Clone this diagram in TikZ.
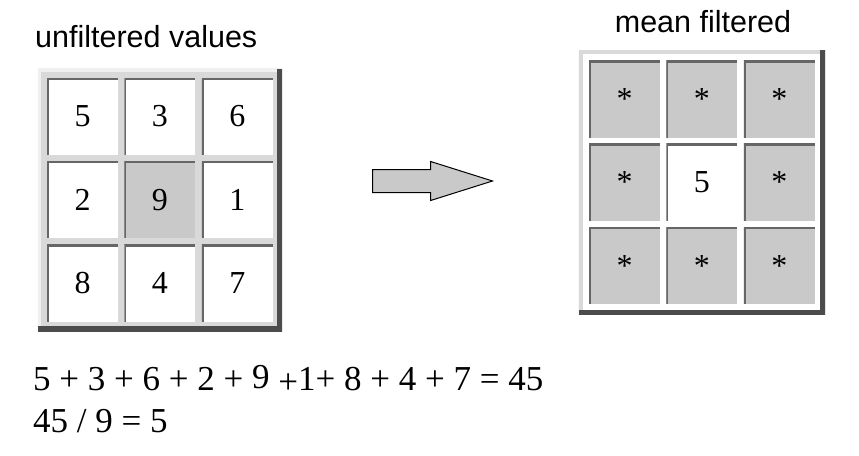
\documentclass[tikz,border=0pt]{standalone}
\usepackage{fontspec}
\setmainfont{Liberation Serif}
\setsansfont{Liberation Sans}
\usetikzlibrary{positioning, fit, backgrounds, shapes.arrows}

\begin{document}
\begin{tikzpicture}[
            x=1pt, y=-1pt,
            node distance=6pt,
            cell/.style={minimum width=71pt, minimum height=77pt, inner sep=0pt,
                fill=white, font=\fontsize{32}{36}\selectfont,
                path picture={\draw[line width=4pt, black!60]
                    (path picture bounding box.south west) |- (path picture bounding box.north east);}},
            shaded/.style={cell, fill=gray!42},
            tray/.style={inner sep=9pt, fill=gray!30,
                path picture={
                    \draw[line width=6pt, gray!12]
                        (path picture bounding box.south west) |- (path picture bounding box.north east);
                    \draw[line width=10pt, black!70]
                        (path picture bounding box.south west) -| (path picture bounding box.north east);}},
            whitetray/.style={inner sep=10pt, fill=white,
                path picture={
                    \draw[line width=8pt, gray!30]
                        (path picture bounding box.south west) rectangle (path picture bounding box.north east);
                    \draw[line width=10pt, black!70]
                        (path picture bounding box.south west) -| (path picture bounding box.north east);}},
            title/.style={font=\sffamily\fontsize{30.5}{34}\selectfont, inner sep=0pt},
            sum/.style={font=\fontsize{35}{40}\selectfont, inner sep=0pt, anchor=base west},
        ]
            \useasboundingbox (0,0) rectangle (859,455);

            \node[title, anchor=base west] (intitle) at (35,47) {unfiltered values};
            \node[title, anchor=base] (outtitle) at (703,32) {mean filtered};

            \node[cell] (a1) at (82.5,116.5) {5};
            \node[cell, right=of a1] (a2) {3};
            \node[cell, right=of a2] (a3) {6};
            \node[cell, below=of a1] (a4) {2};
            \node[shaded, right=of a4] (a5) {9};
            \node[cell, right=of a5] (a6) {1};
            \node[cell, below=of a4] (a7) {8};
            \node[cell, right=of a7] (a8) {4};
            \node[cell, right=of a8] (a9) {7};

            \node[shaded] (b1) at (624.5,99) {*};
            \node[shaded, right=of b1] (b2) {*};
            \node[shaded, right=of b2] (b3) {*};
            \node[shaded, below=of b1] (b4) {*};
            \node[cell, right=of b4] (b5) {5};
            \node[shaded, right=of b5] (b6) {*};
            \node[shaded, below=of b4] (b7) {*};
            \node[shaded, right=of b7] (b8) {*};
            \node[shaded, right=of b8] (b9) {*};

            \begin{scope}[on background layer]
                \node[tray, fit=(a1)(a9)] (input) {};
                \node[whitetray, fit=(b1)(b9)] (output) {};
            \end{scope}

            \node[single arrow, draw, line width=1pt, fill=gray!42,
                inner xsep=0pt, inner ysep=11pt, minimum height=120pt,
                single arrow head extend=8pt, single arrow tip angle=35,
                anchor=tail] (arrow) at (372,181) {};

            \node[sum] (total) at (33,390) {5 + 3 + 6 + 2 + \raisebox{2pt}{9} \raisebox{-3pt}{+}1+ 8 + 4 + 7 = 45};
            \node[sum] (mean) at (33,432) {45 / 9 = 5};
        \end{tikzpicture}
\end{document}
